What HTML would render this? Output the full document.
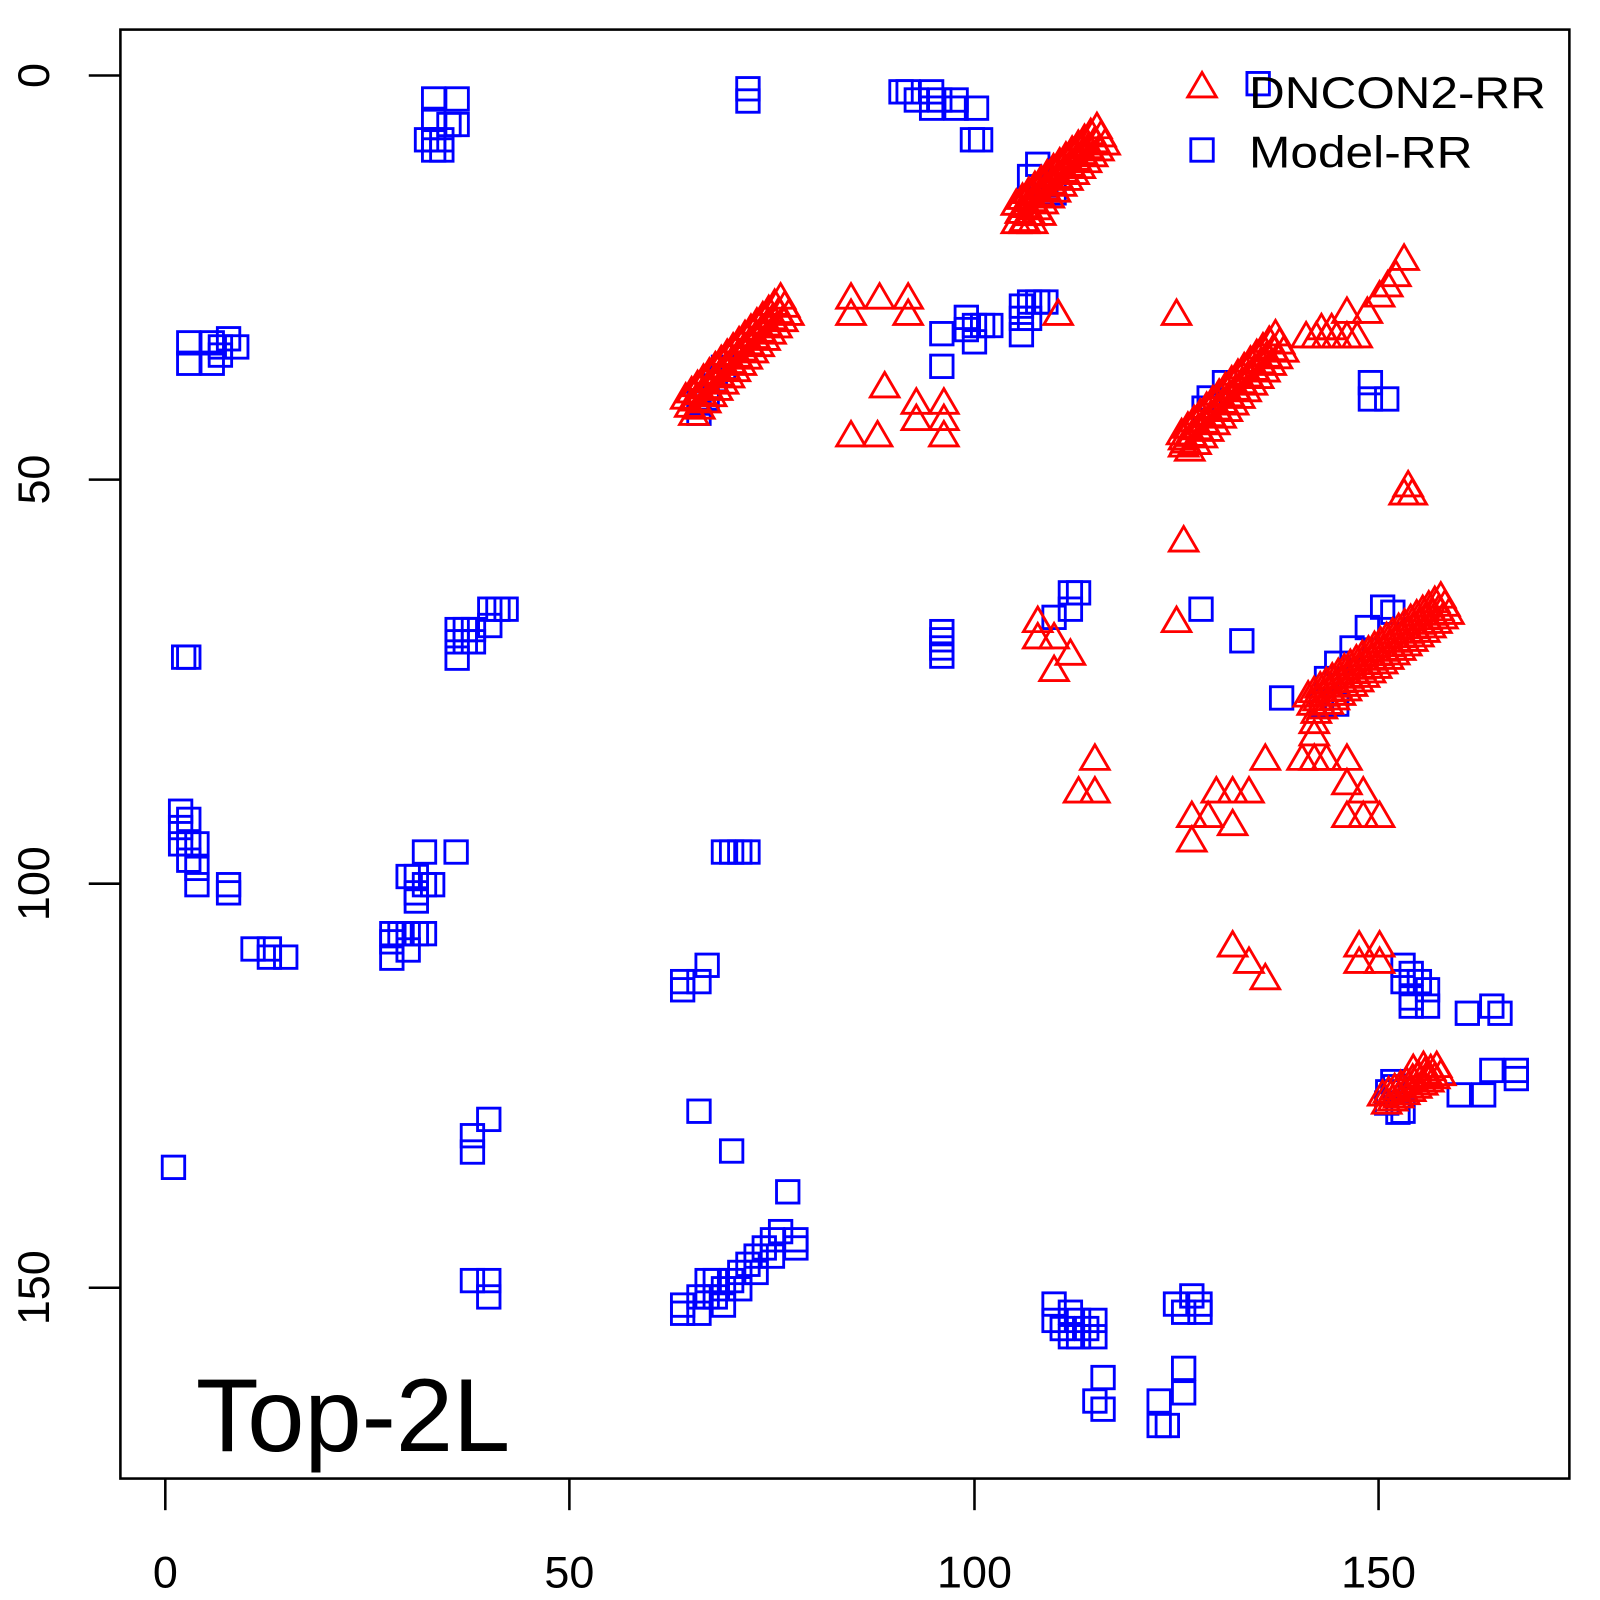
<!DOCTYPE html>
<html><head><meta charset="utf-8">
<style>html,body{margin:0;padding:0;background:#fff;}svg{display:block;}</style>
</head><body>
<svg id="s" width="1600" height="1600" viewBox="0 0 1600 1600" xmlns="http://www.w3.org/2000/svg" font-family="Liberation Sans, Arial, sans-serif">
<rect x="0" y="0" width="1600" height="1600" fill="#fff"/>
<g transform="scale(1.0204)">
<rect x="118" y="29" width="1420" height="1420" fill="none" stroke="#000" stroke-width="2.5"/>
<g stroke="#000" stroke-width="2.5">
<line x1="162" y1="1449" x2="162" y2="1480"/><line x1="558" y1="1449" x2="558" y2="1480"/>
<line x1="955" y1="1449" x2="955" y2="1480"/><line x1="1351" y1="1449" x2="1351" y2="1480"/>
<line x1="118" y1="74" x2="87" y2="74"/><line x1="118" y1="470" x2="87" y2="470"/>
<line x1="118" y1="866" x2="87" y2="866"/><line x1="118" y1="1262" x2="87" y2="1262"/>
</g>
<g font-size="44" text-anchor="middle" fill="#000">
<text x="162" y="1556">0</text><text x="558" y="1556">50</text>
<text x="955" y="1556">100</text><text x="1351" y="1556">150</text>
<text transform="translate(48,74) rotate(-90)">0</text>
<text transform="translate(48,470) rotate(-90)">50</text>
<text transform="translate(48,866) rotate(-90)">100</text>
<text transform="translate(48,1262) rotate(-90)">150</text>
</g>
<text x="192" y="1422" font-size="102" fill="#000" textLength="308" lengthAdjust="spacingAndGlyphs">Top-2L</text>
<g id="pts" fill="none" stroke-width="2.8"></g>
<text x="1224" y="106" font-size="44" fill="#000" textLength="291" lengthAdjust="spacingAndGlyphs">DNCON2-RR</text>
<text x="1224" y="164" font-size="44" fill="#000" textLength="219" lengthAdjust="spacingAndGlyphs">Model-RR</text>
</g>
</svg>
<script>
var g=document.getElementById('pts');var h='';
function sq(x,y){h+='<rect x="'+(x-11)+'" y="'+(y-11)+'" width="22" height="22" stroke="#0000ff"/>';}
function tr(x,y){h+='<polygon points="'+(x-14)+','+(y+10)+' '+(x+14)+','+(y+10)+' '+x+','+(y-14)+'" stroke="#ff0000"/>';}
var B=[[425,97],[448,97],[425,117],[440,122],[448,122],[418,137],[425,137],[433,137],[425,147],[433,147],
[733,87],[733,99],[883,90],[890,90],[898,98],[913,90],[913,106],[921,98],[937,98],[937,106],[957,106],[953,137],[961,137],
[1017,161],[1009,173],[1025,181],[1033,189],
[1001,300],[1009,296],[1017,296],[1025,296],[1001,312],[1001,328],[1009,312],[947,311],[947,323],[955,319],[963,319],[971,319],[923,327],[955,335],[923,359],
[1233,82],[185,336],[185,356],[208,336],[208,356],[216,340],[224,332],[232,340],[216,348],
[1343,375],[1343,391],[1359,391],[180,644],[185,644],
[448,617],[456,617],[464,617],[448,629],[456,629],[464,629],[448,645],[480,597],[488,597],[496,597],[480,613],
[923,619],[923,627],[923,635],[923,643],[1049,581],[1057,581],[1049,597],[1033,605],
[1177,597],[1217,628],[1256,684],
[177,795],[177,811],[185,803],[193,827],[185,827],[177,827],[185,843],[193,851],[193,867],[224,867],[224,875],[248,930],[264,930],[264,938],[280,938],
[447,835],[416,835],[400,859],[408,859],[416,867],[424,867],[408,875],[408,883],[384,915],[392,915],[400,915],[408,915],[416,915],[384,923],[384,939],[400,931],
[709,835],[717,835],[725,835],[733,835],[693,946],[669,962],[685,962],[669,970],
[1375,946],[1383,954],[1391,962],[1399,970],[1375,962],[1383,978],[1399,986],[1383,986],[1438,993],[1462,986],[1470,993],[1462,1049],[1486,1049],[1486,1057],[1430,1073],[1454,1073],[1367,1065],[1359,1081],[1375,1089],
[170,1144],[479,1097],[463,1113],[463,1129],[685,1089],[717,1128],[772,1168],[463,1255],[479,1255],[479,1271],
[685,1271],[693,1271],[685,1287],[693,1255],[701,1255],[709,1263],[717,1255],[725,1247],[733,1239],[741,1231],[749,1223],[757,1215],[765,1207],[780,1215],[780,1223],[757,1231],[741,1247],[725,1263],[701,1271],[709,1279],[669,1279],[669,1287],
[1033,1278],[1049,1286],[1057,1294],[1065,1302],[1073,1294],[1073,1310],[1033,1294],[1041,1302],[1049,1310],[1057,1310],[1081,1350],[1073,1373],[1081,1381],[1136,1373],[1136,1397],[1144,1397],[1160,1341],[1160,1365],[1152,1278],[1168,1270],[1176,1278],[1160,1286],[1176,1286],
[685,405],[693,390],[701,372],[709,360],[685,395],
[1185,390],[1200,375],[1180,400],
[1295,690],[1310,690],[1300,665],[1310,650],[1325,635],[1340,615],[1355,595],[1365,600],
[1360,1070],[1365,1060],[1370,1090]];
B.forEach(function(p){sq(p[0],p[1]);});
function band(x0,y0,x1,y1,rows){var n=Math.round(Math.abs(x1-x0)/6);for(var i=0;i<=n;i++){var x=x0+(x1-x0)*i/n,y=y0+(y1-y0)*i/n;for(var r=0;r<rows;r++){tr(x+r*4,y+r*8);}}}
band(996,200,1075,125,3);
band(672,390,765,292,3);
band(1158,425,1250,328,3);
band(1282,682,1412,585,3);
band(1355,1073,1408,1045,2);
var T=[[996,218],[1004,218],[1012,218],[1020,210],[834,292],[834,308],[862,292],[890,292],[890,308],[867,379],[834,427],[860,427],[898,411],[898,395],[925,395],[925,411],[925,427],[1037,308],[1153,308],[1160,530],[1153,609],[1017,609],[1017,625],[1033,625],[1049,641],[1033,657],[1073,744],[1057,776],[1073,776],[1240,744],[1192,776],[1208,776],[1224,776],[1168,800],[1184,800],[1208,808],[1168,824],[1276,744],[1288,744],[1300,744],[1320,744],[1320,768],[1320,800],[1336,776],[1336,800],[1352,800],[1208,927],[1224,943],[1240,959],[1332,927],[1352,927],[1332,943],[1352,943],[1380,476],[1384,484],[1376,484],[1376,254],[1368,270],[1360,280],[1352,290],[1340,306],[1320,306],[1280,330],[1290,330],[1300,330],[1310,330],[1320,330],[1330,330],[1295,322],[1305,322],[1288,708],[1288,720],[1160,437],[1160,430],[1400,1055],[1395,1045],[1385,1048]];
T.forEach(function(p){tr(p[0],p[1]);});
tr(1178,85);sq(1178,147);
g.innerHTML=h;
</script>
</body></html>
